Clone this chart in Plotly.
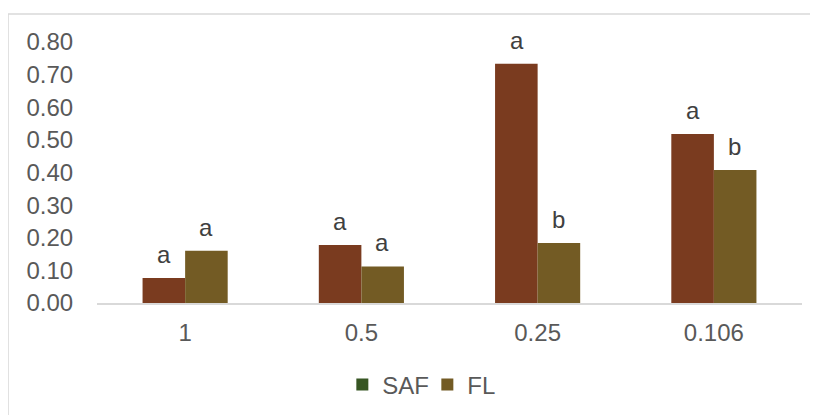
import plotly.graph_objects as go

categories = ["1", "0.5", "0.25", "0.106"]
saf_values = [0.077, 0.178, 0.733, 0.518]
fl_values = [0.160, 0.112, 0.184, 0.408]
saf_letters = ["a", "a", "a", "a"]
fl_letters = ["a", "a", "b", "b"]
y_ticks = [0.0, 0.1, 0.2, 0.3, 0.4, 0.5, 0.6, 0.7, 0.8]

SAF_BAR = "#7a3b1f"
FL_BAR = "#735b24"
SAF_LEG = "#375623"
TXT = "#595959"
FONT = "Arial, Liberation Sans, sans-serif"

fig = go.Figure()
fig.add_trace(go.Bar(x=categories, y=saf_values, name="SAF", marker_color=SAF_BAR,
                     marker_line_width=0, showlegend=False, offsetgroup="s"))
fig.add_trace(go.Bar(x=categories, y=fl_values, name="FL", marker_color=FL_BAR,
                     marker_line_width=0, showlegend=False, offsetgroup="f"))
# legend entries
fig.add_trace(go.Scatter(x=[None], y=[None], mode="markers", name="SAF",
                         marker=dict(symbol="square", size=12, color=SAF_LEG)))
fig.add_trace(go.Scatter(x=[None], y=[None], mode="markers", name="FL",
                         marker=dict(symbol="square", size=12, color=FL_BAR)))

annotations = []
for i, (v, t) in enumerate(zip(saf_values, saf_letters)):
    annotations.append(dict(x=i, y=v, text=t, showarrow=False, xshift=-21,
                            yanchor="bottom", yshift=8,
                            font=dict(family=FONT, size=24, color="#404040")))
for i, (v, t) in enumerate(zip(fl_values, fl_letters)):
    annotations.append(dict(x=i, y=v, text=t, showarrow=False, xshift=21,
                            yanchor="bottom", yshift=8,
                            font=dict(family=FONT, size=24, color="#404040")))

fig.update_layout(
    width=810, height=407,
    margin=dict(l=89, r=16, t=34, b=112, autoexpand=False),
    paper_bgcolor="white", plot_bgcolor="white",
    barmode="group", bargap=0.517, bargroupgap=0,
    font=dict(family=FONT, size=24, color=TXT),
    legend=dict(orientation="h", x=0.348, xanchor="left", y=-0.314, yanchor="middle",
                font=dict(family=FONT, size=24, color=TXT), itemwidth=30,
                entrywidth=40, entrywidthmode="pixels"),
    annotations=annotations,
    shapes=[dict(type="rect", xref="paper", yref="paper",
                 x0=-0.1262, x1=1.05, y0=-0.6, y1=1.107,
                 line=dict(color="#d9d9d9", width=1.5), fillcolor="rgba(0,0,0,0)",
                 layer="below")],
    xaxis=dict(type="category", showline=True, linecolor="#d9d9d9", linewidth=1.5,
               showgrid=False, automargin=False,
               ticks="outside", ticklen=7, tickcolor="rgba(0,0,0,0)",
               tickfont=dict(family=FONT, size=24, color=TXT), zeroline=False),
    yaxis=dict(range=[0, 0.8], tickvals=y_ticks, tickformat=".2f", showgrid=False,
               automargin=False,
               showline=False, zeroline=False, ticks="outside", ticklen=18,
               tickcolor="rgba(0,0,0,0)",
               tickfont=dict(family=FONT, size=24, color=TXT)),
)

fig.write_html("out.html")
